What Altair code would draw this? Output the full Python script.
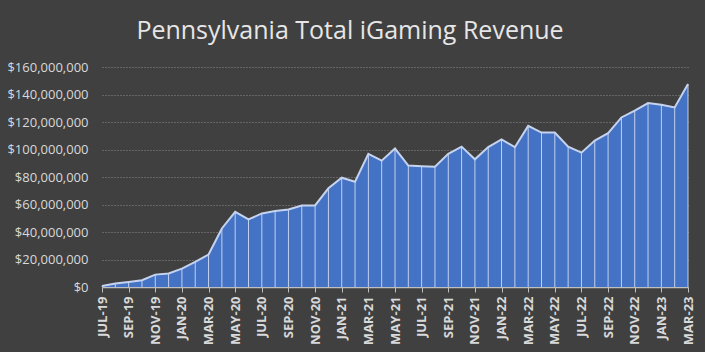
import altair as alt
import pandas as pd

months = ["JUL-19","AUG-19","SEP-19","OCT-19","NOV-19","DEC-19",
          "JAN-20","FEB-20","MAR-20","APR-20","MAY-20","JUN-20",
          "JUL-20","AUG-20","SEP-20","OCT-20","NOV-20","DEC-20",
          "JAN-21","FEB-21","MAR-21","APR-21","MAY-21","JUN-21",
          "JUL-21","AUG-21","SEP-21","OCT-21","NOV-21","DEC-21",
          "JAN-22","FEB-22","MAR-22","APR-22","MAY-22","JUN-22",
          "JUL-22","AUG-22","SEP-22","OCT-22","NOV-22","DEC-22",
          "JAN-23","FEB-23","MAR-23"]
revenue_m = [0.8, 2.5, 3.6, 4.9, 9.0, 9.8,
             13.4, 18.3, 23.6, 42.6, 54.7, 49.1,
             53.5, 55.2, 56.4, 59.3, 59.3, 71.8,
             79.5, 76.6, 96.8, 91.9, 100.7, 88.3,
             87.8, 87.5, 96.8, 102.1, 92.9, 101.8,
             107.3, 101.7, 117.2, 112.3, 112.3, 102.1,
             97.7, 106.5, 111.9, 123.3, 128.2, 133.8,
             132.5, 130.6, 147.6]
tick_labels = months[::2]
y_ticks = [0, 20000000, 40000000, 60000000, 80000000, 100000000,
           120000000, 140000000, 160000000]

df = pd.DataFrame({"month": months, "revenue": [v * 1e6 for v in revenue_m]})

BG = "#404040"
TXT = "#d9d9d9"

x = alt.X("month:N", sort=months, scale=alt.Scale(type="point", padding=0),
          axis=alt.Axis(values=tick_labels, labelAngle=-90, labelFont="Open Sans",
                        labelFontSize=13, labelFontWeight="bold", labelColor=TXT,
                        labelPadding=4, tickColor="#bfbfbf", tickSize=5,
                        labelOverlap=False,
                        domainColor="#bfbfbf", domainWidth=1.5, grid=False, title=None))
y = alt.Y("revenue:Q", scale=alt.Scale(domain=[0, 160000000], nice=False),
          axis=alt.Axis(values=y_ticks, format="$,.0f", labelOverlap=False,
                        labelFont="Open Sans", labelFontSize=13, labelColor=TXT,
                        labelPadding=14, ticks=False, domain=False,
                        grid=True, gridColor="#8a8a8a", gridDash=[1, 2], gridWidth=1,
                        title=None))

base = alt.Chart(df)
area = base.mark_area(color="#4472c4", opacity=1).encode(x=x, y=y)
rules = base.mark_rule(color="#d0dcf2", strokeWidth=1, opacity=0.9).encode(
    x=x, y=y, y2=alt.datum(0))
line = base.mark_line(color="#c5d3ee", strokeWidth=2).encode(x=x, y=y)

chart = alt.layer(area, rules, line).properties(
    width=586, height=220,
    title=alt.TitleParams("Pennsylvania Total iGaming Revenue", font="Open Sans",
                          fontSize=25, fontWeight="normal", color="#e6e6e6",
                          anchor="middle", dx=-45, offset=17),
    background=BG,
    autosize=alt.AutoSizeParams(type="none"),
    padding={"left": 102, "top": 67, "right": 17, "bottom": 65},
).configure_view(stroke=None)

chart.save("out.html", embed_options={"renderer": "svg", "actions": False})
